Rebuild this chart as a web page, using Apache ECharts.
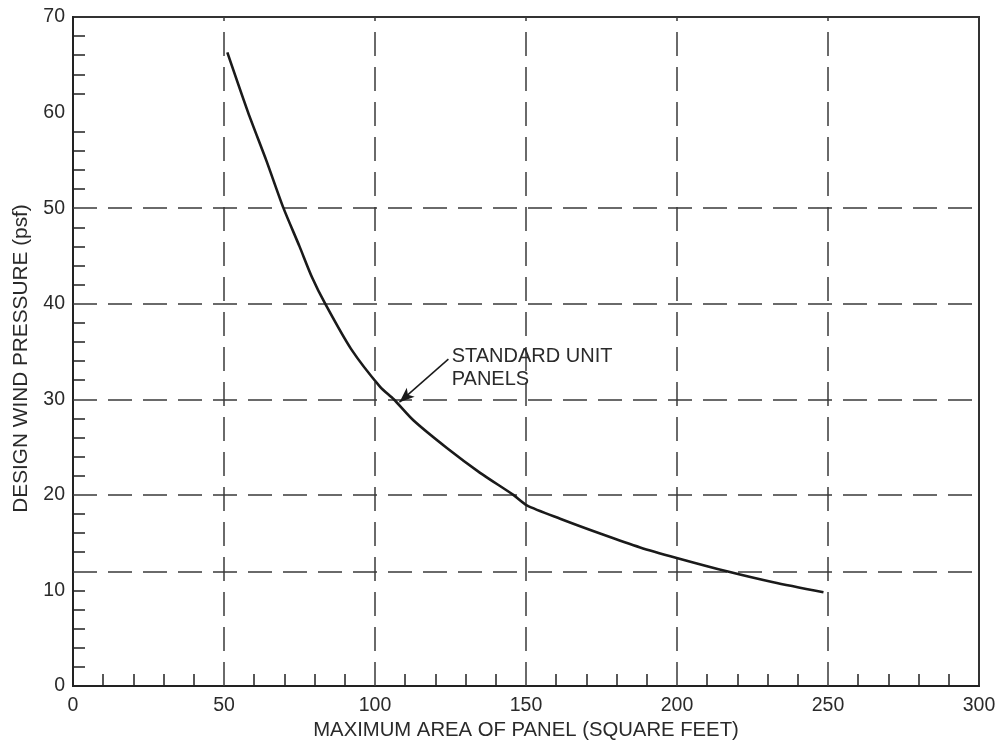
<!DOCTYPE html>
<html>
<head>
<meta charset="utf-8">
<title>Design Wind Pressure vs Maximum Panel Area</title>
<script src="https://cdn.jsdelivr.net/npm/echarts@6/dist/echarts.min.js"></script>
<style>
  html, body { margin: 0; padding: 0; background: #fff; }
  #chart { width: 1002px; height: 748px; }
</style>
</head>
<body>
<div id="chart"></div>
<script>
// Curve: maximum panel area (sq ft) vs design wind pressure (psf)
const areaSqFt = [51.1, 58, 64, 69.7, 75, 79.1, 83.5, 92, 101.7, 106.2, 112.7, 123.8, 134.8, 145.8, 150.3, 161.3, 175, 187.8, 199.9, 216.5, 231.9, 248.5];
const pressurePsf = [66.3, 60, 55, 50, 46, 42.8, 40, 35.3, 31.3, 30.0, 27.8, 24.9, 22.3, 20.0, 18.9, 17.5, 15.9, 14.5, 13.4, 12.0, 10.85, 9.8];

// Dashed reference lines
const xGridLines = [50, 100, 150, 200, 250];
const yGridLines = [12, 20, 30, 40, 50];

// Inner tick marks
const xMinorTicks = [10, 20, 30, 40, 60, 70, 80, 90, 110, 120, 130, 140, 160, 170, 180, 190, 210, 220, 230, 240, 260, 270, 280, 290];
const yMinorTicks = [2, 4, 6, 8, 10, 14, 16, 18, 22, 24, 26, 28, 32, 34, 36, 38, 42, 44, 46, 48, 52, 54, 56, 58, 62, 64, 66, 68];

// Callout
const calloutText = 'STANDARD UNIT\nPANELS';
const calloutAt = [125.4, 33.3];
const arrowFrom = [124.3, 34.2];
const arrowTo = [108.1, 29.7];

const FONT = '"Liberation Sans", Arial, Helvetica, sans-serif';
const INK = '#222';
const TEXT = '#2a2a2a';

const chart = echarts.init(document.getElementById('chart'), null, { renderer: 'canvas' });

const gridMarks = [];
xGridLines.forEach(v => gridMarks.push({ xAxis: v }));
yGridLines.forEach(v => gridMarks.push({ yAxis: v }));

const option = {
  backgroundColor: '#fff',
  animation: false,
  grid: {
    left: 73, top: 17, right: 23, bottom: 62,
    show: true, borderColor: '#333', borderWidth: 2, backgroundColor: 'transparent'
  },
  xAxis: {
    type: 'value', min: 0, max: 300, interval: 50,
    name: 'MAXIMUM AREA OF PANEL (SQUARE FEET)',
    nameLocation: 'middle', nameGap: 32,
    nameTextStyle: { fontFamily: FONT, fontSize: 20.3, color: TEXT },
    axisLine: { show: true, lineStyle: { color: INK, width: 2 } },
    axisTick: { show: true, inside: true, length: 12, customValues: xMinorTicks, lineStyle: { color: INK, width: 1.5 } },
    axisLabel: { fontFamily: FONT, fontSize: 19.5, color: TEXT, margin: 10 },
    splitLine: { show: false }
  },
  yAxis: {
    type: 'value', min: 0, max: 70, interval: 10,
    name: 'DESIGN WIND PRESSURE (psf)',
    nameLocation: 'middle', nameGap: 41, nameRotate: 90,
    nameTextStyle: { fontFamily: FONT, fontSize: 20.8, color: TEXT, padding: [0, 14, 0, 0] },
    axisLine: { show: true, lineStyle: { color: INK, width: 2 } },
    axisTick: { show: true, inside: true, length: 12, customValues: yMinorTicks, lineStyle: { color: INK, width: 1.5 } },
    axisLabel: { fontFamily: FONT, fontSize: 19.5, color: TEXT, margin: 8 },
    splitLine: { show: false }
  },
  series: [
    {
      type: 'line',
      data: areaSqFt.map((x, i) => [x, pressurePsf[i]]),
      showSymbol: false,
      smooth: 0.25,
      lineStyle: { color: '#1a1a1a', width: 2.6 },
      z: 10,
      markLine: {
        silent: true,
        symbol: 'none',
        animation: false,
        label: { show: false },
        lineStyle: { color: '#3a3a3a', width: 1.5, type: [24, 11] },
        data: gridMarks
      }
    },
    {
      type: 'line',
      data: [],
      markLine: {
        silent: true,
        animation: false,
        label: { show: false },
        lineStyle: { color: '#1a1a1a', width: 1.5, type: 'solid' },
        data: [[
          { coord: arrowFrom, symbol: 'none' },
          { coord: arrowTo, symbol: 'arrow', symbolSize: [9, 15] }
        ]]
      },
      markPoint: {
        silent: true,
        animation: false,
        symbol: 'circle',
        symbolSize: 0,
        data: [{ coord: calloutAt }],
        label: {
          show: true, position: 'right', distance: 0,
          formatter: calloutText,
          fontFamily: FONT, fontSize: 20, lineHeight: 23, color: TEXT, align: 'left'
        }
      }
    }
  ]
};

chart.setOption(option);
</script>
</body>
</html>
